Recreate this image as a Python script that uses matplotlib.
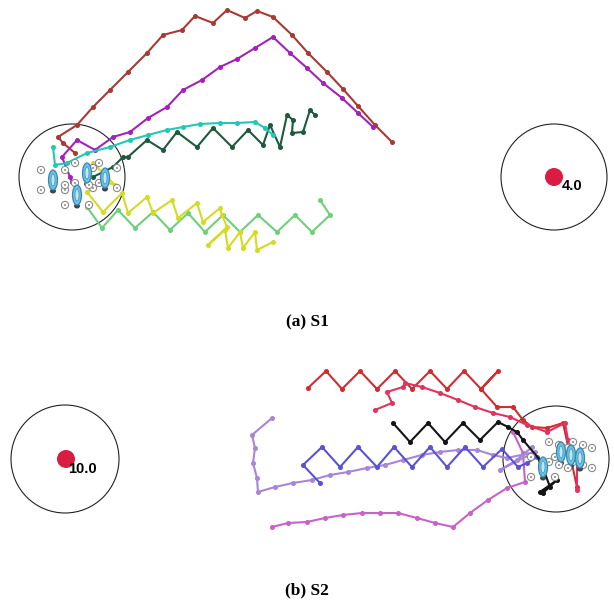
import numpy as np
import matplotlib
matplotlib.use("Agg")
import matplotlib.pyplot as plt
from matplotlib.patches import Circle, Ellipse

# trajectories, in pixel coords of the image (x right, y down)
# --- (a) S1 ---
s1_brown = [(75, 153), (63, 143), (58, 137), (77, 125), (93, 107), (110, 90), (128, 72),
            (147, 53), (163, 35), (182, 30), (195, 16), (213, 23), (227, 10), (245, 18),
            (257, 11), (273, 17), (292, 35), (308, 53), (327, 72), (343, 89), (358, 106),
            (375, 125), (392, 142)]
s1_purple = [(72, 182), (70, 177), (62, 157), (77, 140), (95, 150), (113, 137), (130, 132),
             (148, 118), (167, 107), (183, 90), (202, 80), (220, 67), (237, 59), (255, 48),
             (273, 37), (290, 53), (307, 68), (323, 83), (342, 98), (358, 113), (373, 127)]
s1_teal = [(53, 147), (55, 165), (67, 163), (87, 153), (110, 147), (130, 140), (148, 135),
           (167, 130), (183, 127), (200, 124), (220, 123), (237, 123), (255, 122), (265, 128),
           (273, 135)]
s1_green = [(93, 177), (113, 167), (123, 157), (128, 157), (147, 140), (163, 150), (177, 132),
            (197, 147), (213, 128), (232, 147), (248, 130), (263, 145), (270, 125), (280, 147),
            (287, 115), (293, 120), (292, 133), (303, 132), (310, 110), (315, 115)]
s1_lightgreen = [(87, 207), (102, 228), (118, 210), (135, 228), (153, 212), (170, 230),
                 (188, 213), (205, 232), (223, 215), (240, 232), (258, 215), (277, 232),
                 (295, 215), (312, 232), (330, 215), (320, 200)]
s1_yellow = [(93, 163), (115, 185), (102, 181), (87, 192), (103, 212), (122, 193), (128, 213),
             (147, 197), (153, 213), (172, 200), (178, 218), (197, 203), (203, 222), (220, 208),
             (222, 215), (227, 227), (208, 245), (225, 230), (228, 248), (240, 232), (243, 248),
             (255, 232), (257, 250), (273, 242)]

# --- (b) S2 ---
s2_red = [(577, 487), (563, 423), (547, 428), (532, 427), (523, 420), (513, 407), (497, 407),
          (481, 389), (498, 371), (481, 389), (464, 371), (447, 389), (430, 371), (412, 389),
          (395, 371), (377, 389), (360, 371), (342, 389), (326, 371), (308, 388)]
s2_crimson = [(577, 490), (577, 457), (568, 440), (565, 423), (547, 432), (527, 425),
              (510, 417), (493, 413), (475, 407), (458, 400), (440, 393), (422, 387),
              (405, 383), (403, 387), (387, 392), (392, 403), (375, 410)]
s2_black = [(543, 493), (557, 480), (540, 492), (550, 487), (540, 460), (523, 440),
            (517, 432), (508, 427), (498, 422), (480, 440), (463, 423), (445, 442),
            (428, 423), (410, 442), (393, 423)]
s2_blue = [(537, 457), (527, 463), (518, 467), (502, 449), (483, 467), (465, 447), (447, 467),
           (430, 447), (412, 467), (394, 447), (377, 467), (358, 447), (340, 467), (322, 447),
           (303, 465), (320, 483)]
s2_lavender = [(532, 447), (517, 460), (500, 470), (535, 452), (507, 458), (493, 455),
               (477, 450), (458, 450), (440, 452), (422, 455), (403, 460), (385, 465),
               (367, 468), (348, 472), (330, 475), (312, 480), (293, 483), (275, 487),
               (258, 492), (257, 478), (253, 463), (255, 448), (252, 435), (272, 418)]
s2_orchid = [(513, 432), (523, 453), (525, 482), (507, 488), (488, 500), (470, 513),
             (453, 527), (435, 523), (417, 518), (398, 513), (380, 513), (362, 513),
             (343, 515), (325, 518), (307, 522), (288, 523), (272, 527)]

s1_tracks = [(s1_lightgreen, "#6fd07a"), (s1_green, "#1d5a3c"), (s1_yellow, "#d4dc22"),
             (s1_brown, "#a83a34"), (s1_purple, "#a223b8"), (s1_teal, "#22c8b4")]
s2_tracks = [(s2_orchid, "#c862c8"), (s2_lavender, "#a686d6"), (s2_blue, "#5a52d6"),
             (s2_red, "#d22c30"), (s2_crimson, "#e2325e"), (s2_black, "#141414")]

# start / goal areas (center x, center y, radius)
circles = [(72, 177, 53), (554, 177, 53), (65, 459, 54), (556, 459, 53)]
targets = [(554, 177, "4.0", 562, 186), (66, 459, "10.0", 68, 469)]

s1_drones = [(53, 180), (87, 173), (105, 178), (77, 195)]
s2_drones = [(543, 467), (561, 452), (571, 455), (580, 458)]

captions = [("(a) S1", 307, 322), ("(b) S2", 307, 590)]


def draw_drone(ax, x, y):
    for dx, dy in [(-12, -10), (12, -10), (-12, 10), (12, 10)]:
        ax.add_patch(Circle((x + dx, y + dy), 3.6, facecolor="white", edgecolor="#8a8a8a",
                            lw=0.8, zorder=6))
        ax.add_patch(Circle((x + dx, y + dy), 1.1, facecolor="#9a9a9a", lw=0, zorder=6))
    ax.add_patch(Ellipse((x, y + 11), 6, 5, facecolor="#3c4650", lw=0, zorder=6))
    ax.add_patch(Ellipse((x, y), 9, 20, facecolor="#6cc2e2", edgecolor="#3b86ad",
                         lw=0.9, zorder=7))
    ax.add_patch(Ellipse((x, y), 4, 12, facecolor="#bfe8f6", edgecolor="#4a9ac0",
                         lw=0.6, zorder=7))


fig = plt.figure(figsize=(6.14, 6.11), dpi=100)
ax = fig.add_axes([0, 0, 1, 1])
ax.set_xlim(0, 614)
ax.set_ylim(611, 0)
ax.axis("off")

for cx, cy, r in circles:
    ax.add_patch(Circle((cx, cy), r, fill=False, edgecolor="#222222", lw=0.8, zorder=1))

for track, col in s1_tracks + s2_tracks:
    xs, ys = zip(*track)
    ax.plot(xs, ys, "-o", color=col, lw=1.5, ms=2.6, zorder=4)

for x, y in s1_drones + s2_drones:
    draw_drone(ax, x, y)

for cx, cy, lab, tx, ty in targets:
    ax.add_patch(Circle((cx, cy), 9, facecolor="#d91c42", lw=0, zorder=3))
    ax.text(tx, ty, lab, fontsize=10.5, fontweight="bold", family="Liberation Sans",
            ha="left", va="center", zorder=5)

for lab, x, y in captions:
    ax.text(x, y, lab, fontsize=12.5, fontweight="bold", family="Liberation Serif",
            ha="center", va="center")

fig.savefig("out.png", dpi=100)
